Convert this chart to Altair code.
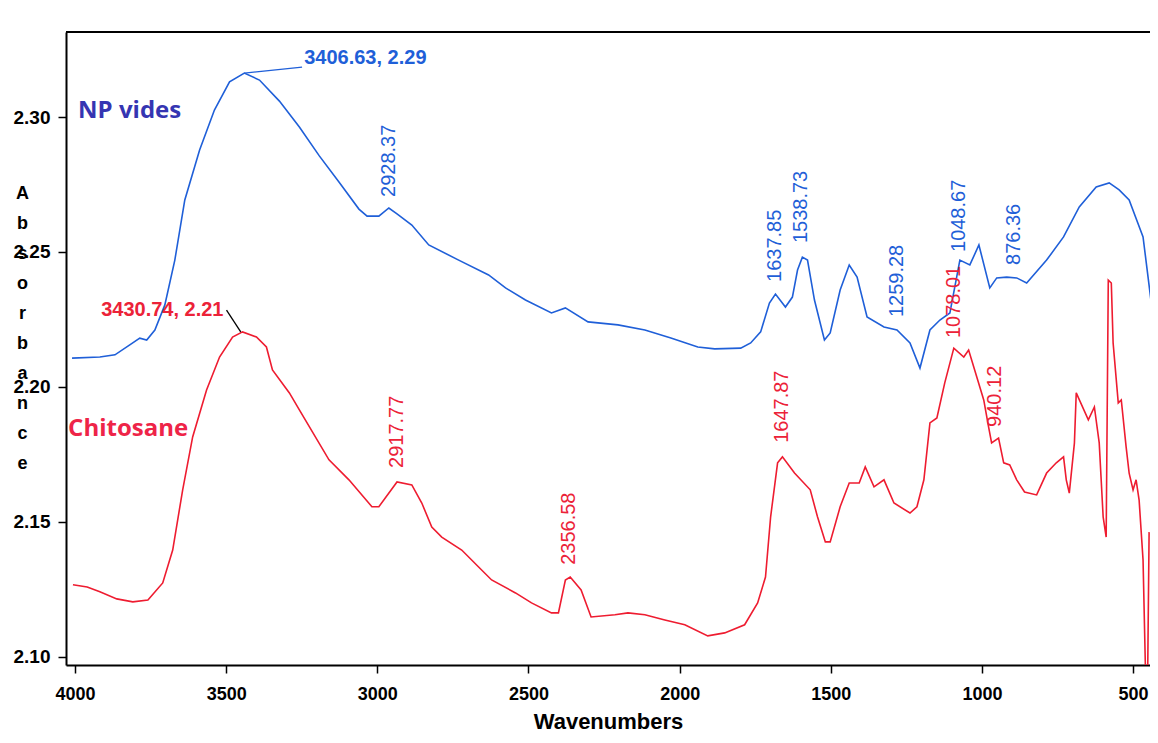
import altair as alt
import pandas as pd

# ---- NP vides (blue) spectrum ----
blue_wn = [4010, 3918, 3868, 3819, 3786, 3763, 3736, 3703, 3670, 3637, 3588, 3539, 3489, 3440,
           3390, 3324, 3258, 3192, 3127, 3061, 3034, 2995, 2962, 2935, 2886, 2830, 2731, 2632,
           2576, 2510, 2424, 2378, 2303, 2204, 2115, 2029, 1940, 1884, 1798, 1765, 1732, 1703,
           1683, 1650, 1627, 1610, 1594, 1577, 1554, 1521, 1502, 1469, 1439, 1413, 1380, 1324,
           1281, 1238, 1205, 1172, 1139, 1106, 1073, 1040, 1010, 974, 951, 918, 885, 852, 786,
           730, 678, 622, 579, 546, 513, 467, 434]
blue_abs = [2.2107, 2.2111, 2.2119, 2.2156, 2.2181, 2.2174, 2.2211, 2.2304, 2.2470, 2.2693,
            2.2878, 2.3026, 2.3130, 2.3163, 2.3137, 2.3059, 2.2963, 2.2856, 2.2759, 2.2659,
            2.2633, 2.2633, 2.2663, 2.2641, 2.2600, 2.2526, 2.2470, 2.2415, 2.2367, 2.2322,
            2.2274, 2.2293, 2.2241, 2.2230, 2.2211, 2.2181, 2.2148, 2.2141, 2.2144, 2.2163,
            2.2204, 2.2311, 2.2344, 2.2296, 2.2333, 2.2433, 2.2481, 2.2470, 2.2322, 2.2174,
            2.2200, 2.2359, 2.2452, 2.2407, 2.2259, 2.2222, 2.2211, 2.2163, 2.2070, 2.2211,
            2.2248, 2.2274, 2.2470, 2.2452, 2.2526, 2.2367, 2.2404, 2.2407, 2.2404, 2.2385,
            2.2470, 2.2556, 2.2667, 2.2741, 2.2756, 2.2730, 2.2693, 2.2556, 2.2259]

# ---- Chitosane (red) spectrum ----
red_wn = [4007, 3960, 3918, 3862, 3809, 3759, 3710, 3677, 3644, 3611, 3565, 3522, 3479, 3446,
          3400, 3367, 3347, 3291, 3258, 3160, 3094, 3018, 2995, 2935, 2886, 2853, 2820, 2787,
          2721, 2665, 2622, 2543, 2490, 2424, 2401, 2378, 2362, 2326, 2293, 2214, 2171, 2115,
          2049, 1983, 1907, 1851, 1785, 1742, 1716, 1699, 1676, 1660, 1620, 1568, 1544, 1518,
          1502, 1469, 1439, 1406, 1386, 1357, 1324, 1291, 1238, 1215, 1192, 1172, 1149, 1123,
          1093, 1060, 1044, 1017, 994, 978, 968, 945, 928, 908, 885, 859, 819, 786, 754, 730,
          721, 711, 694, 688, 648, 628, 612, 599, 589, 582, 572, 566, 549, 539, 523, 513, 500,
          490, 480, 467, 459, 452, 447, 445]
red_abs = [2.1267, 2.1259, 2.1241, 2.1215, 2.1204, 2.1211, 2.1274, 2.1396, 2.1619, 2.1815,
           2.1989, 2.2111, 2.2185, 2.2204, 2.2185, 2.2148, 2.2063, 2.1978, 2.1915, 2.1730,
           2.1656, 2.1556, 2.1556, 2.1648, 2.1637, 2.1570, 2.1481, 2.1444, 2.1396, 2.1333,
           2.1285, 2.1237, 2.1200, 2.1163, 2.1163, 2.1285, 2.1296, 2.1248, 2.1148, 2.1156,
           2.1163, 2.1156, 2.1137, 2.1119, 2.1078, 2.1089, 2.1119, 2.1200, 2.1296, 2.1519,
           2.1719, 2.1741, 2.1681, 2.1619, 2.1519, 2.1426, 2.1426, 2.1556, 2.1644, 2.1644,
           2.1704, 2.1630, 2.1656, 2.1570, 2.1533, 2.1556, 2.1656, 2.1867, 2.1885, 2.2015,
           2.2144, 2.2111, 2.2137, 2.2037, 2.1952, 2.1852, 2.1793, 2.1811, 2.1719, 2.1711,
           2.1656, 2.1611, 2.1600, 2.1681, 2.1719, 2.1741, 2.1656, 2.1607, 2.1793, 2.1978,
           2.1878, 2.1926, 2.1793, 2.1519, 2.1444, 2.2396, 2.2385, 2.2163, 2.1941, 2.1952,
           2.1778, 2.1681, 2.1619, 2.1656, 2.1581, 2.1359, 2.0950, 2.0900, 2.1460, 2.1460]

# ---- vertical peak labels ----
peak_text = ["2928.37", "1637.85", "1538.73", "1259.28", "1048.67", "876.36",
             "2917.77", "2356.58", "1647.87", "1078.01", "940.12"]
peak_wn = [2962, 1683, 1600, 1281, 1076, 895, 2935, 2365, 1660, 1093, 958]
peak_abs = [2.2704, 2.2389, 2.2533, 2.2259, 2.2500, 2.2452, 2.1700, 2.1341, 2.1793, 2.2181, 2.1852]
peak_color = ["#1f5fd8"] * 6 + ["#ec2238"] * 5

# ---- horizontal coordinate labels ----
coord_text = ["3406.63, 2.29", "3430.74, 2.21"]
coord_wn = [3242, 3509]
coord_abs = [2.3219, 2.2285]
coord_align = ["left", "right"]
coord_color = ["#1f5fd8", "#ec2238"]

# ---- leader lines ----
lead_wn1 = [3440, 3499]
lead_abs1 = [2.3163, 2.2285]
lead_wn2 = [3249, 3452]
lead_abs2 = [2.3185, 2.2204]
lead_color = ["#1f5fd8", "#000000"]

# ---- series names ----
name_text = ["NP vides", "Chitosane"]
name_wn = [3990, 4023]
name_abs = [2.3022, 2.1844]
name_color = ["#3535b2", "#ee2448"]

x_ticks = [500, 1000, 1500, 2000, 2500, 3000, 3500, 4000]
y_ticks = [2.10, 2.15, 2.20, 2.25, 2.30]
y_title = ["A", "b", "s", "o", "r", "b", "a", "n", "c", "e"]

W, H = 1084, 633
SANS = "Liberation Sans, Arial, sans-serif"

xscale = alt.Scale(domain=[444, 4030], reverse=True, nice=False, zero=False)
yscale = alt.Scale(domain=[2.097, 2.3315], nice=False, zero=False)

xaxis = alt.Axis(values=x_ticks, format="d", grid=False, title="Wavenumbers",
                 domainColor="black", domainWidth=2, tickColor="black", tickWidth=1.5,
                 tickSize=8, labelFont=SANS, labelFontSize=18, labelFontWeight="bold",
                 labelColor="black", labelPadding=12, labelFlush=False,
                 titleFont=SANS, titleFontSize=22, titleFontWeight="bold",
                 titleColor="black", titleBaseline="middle", titleY=56)
yaxis = alt.Axis(values=y_ticks, format=".2f", grid=False, title=y_title,
                 domainColor="black", domainWidth=2, tickColor="black", tickWidth=1.5,
                 tickSize=8, labelFont=SANS, labelFontSize=19, labelFontWeight="bold",
                 labelColor="black", labelPadding=8,
                 titleFont=SANS, titleFontSize=18,
                 titleFontWeight="bold", titleColor="black", titleAngle=0,
                 titleLineHeight=30, titleAlign="center", titleBaseline="middle",
                 titleX=-44, titleY=161)


def X(f):
    return alt.X(f, type="quantitative", scale=xscale, axis=xaxis)


def Y(f):
    return alt.Y(f, type="quantitative", scale=yscale, axis=yaxis)


blue_df = pd.DataFrame({"wn": blue_wn, "A": blue_abs, "idx": range(len(blue_wn))})
red_df = pd.DataFrame({"wn": red_wn, "A": red_abs, "idx": range(len(red_wn))})
peak_df = pd.DataFrame({"wn": peak_wn, "A": peak_abs, "t": peak_text, "c": peak_color})
coord_df = pd.DataFrame({"wn": coord_wn, "A": coord_abs, "t": coord_text,
                         "c": coord_color, "al": coord_align})
lead_df = pd.DataFrame({"wn": lead_wn1, "A": lead_abs1, "wn2": lead_wn2, "A2": lead_abs2,
                        "c": lead_color})
name_df = pd.DataFrame({"wn": name_wn, "A": name_abs, "t": name_text, "c": name_color})

blue = alt.Chart(blue_df).mark_line(color="#1f5fd8", strokeWidth=1.6, clip=True).encode(
    x=X("wn"), y=Y("A"), order="idx:Q")
red = alt.Chart(red_df).mark_line(color="#ee1c30", strokeWidth=1.6, clip=True).encode(
    x=X("wn"), y=Y("A"), order="idx:Q")

peaks = alt.Chart(peak_df).mark_text(angle=270, align="left", baseline="middle",
                                     font=SANS, fontSize=20).encode(
    x=X("wn"), y=Y("A"), text="t:N", color=alt.Color("c:N", scale=None))

coord_l = alt.Chart(coord_df[coord_df.al == "left"]).mark_text(
    align="left", baseline="middle", font=SANS, fontSize=20, fontWeight="bold").encode(
    x=X("wn"), y=Y("A"), text="t:N", color=alt.Color("c:N", scale=None))
coord_r = alt.Chart(coord_df[coord_df.al == "right"]).mark_text(
    align="right", baseline="middle", font=SANS, fontSize=20, fontWeight="bold").encode(
    x=X("wn"), y=Y("A"), text="t:N", color=alt.Color("c:N", scale=None))

leads = alt.Chart(lead_df).mark_rule(strokeWidth=1.3).encode(
    x=X("wn"), y=Y("A"), x2="wn2:Q", y2="A2:Q", color=alt.Color("c:N", scale=None))

names = alt.Chart(name_df).mark_text(align="left", baseline="middle",
                                     font="Open Sans, Lato, sans-serif", fontSize=24,
                                     fontWeight="bold").encode(
    x=X("wn"), y=Y("A"), text="t:N", color=alt.Color("c:N", scale=None))

top = alt.Chart(name_df).mark_rule(color="black", strokeWidth=2).encode(
    x=alt.value(0), x2=alt.value(W), y=alt.value(0))

chart = alt.layer(blue, red, leads, peaks, coord_l, coord_r, names, top).properties(
    width=W, height=H,
    autosize=alt.AutoSizeParams(type="none"),
    padding={"left": 58, "top": 24, "right": 0, "bottom": 70},
).configure_view(stroke=None).configure(background="white")

chart.save("out.html", embed_options={"renderer": "svg", "actions": False})
